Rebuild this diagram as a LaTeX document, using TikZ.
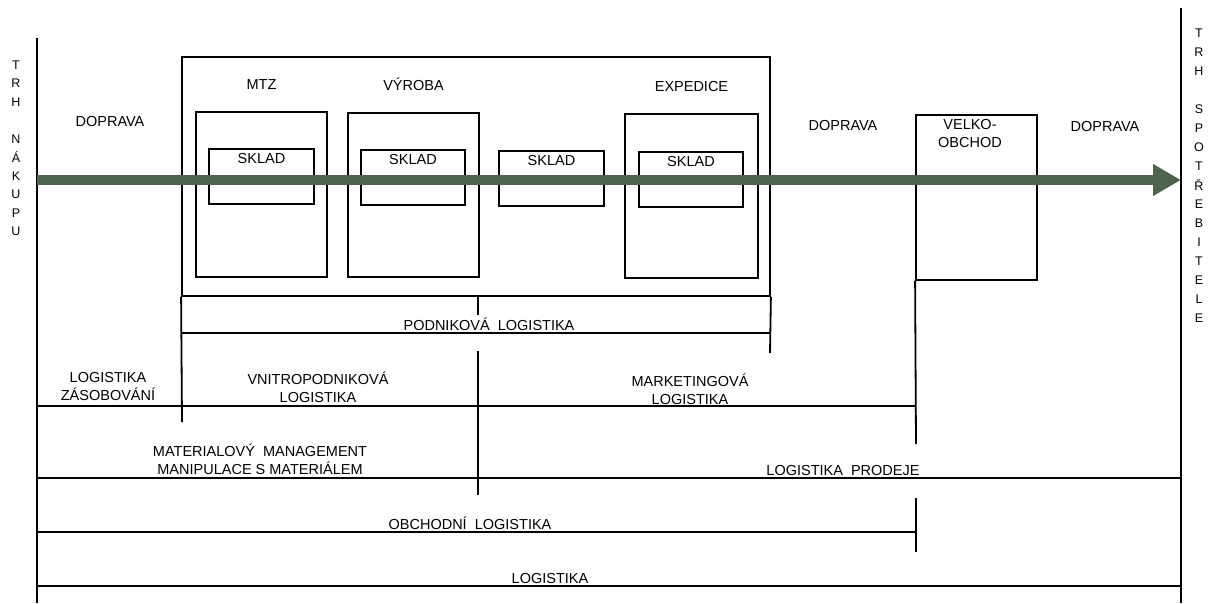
\documentclass[tikz,border=0pt]{standalone}
\usepackage{fontspec}
\setmainfont{Liberation Sans}
\usetikzlibrary{positioning,arrows.meta}
\definecolor{flowgreen}{RGB}{78,98,78}
\tikzstyle{box} = [draw, line width=1.8pt, inner sep=0pt]
\tikzstyle{lbl} = [inner sep=0pt, font=\fontsize{14.5}{18}\selectfont]
\tikzstyle{lbl2} = [lbl, align=center]
\tikzstyle{letter} = [inner sep=0pt, font=\fontsize{12.5}{13}\selectfont]
\tikzstyle{rule} = [line width=1.8pt]
\tikzstyle{flow} = [line width=10pt, draw=flowgreen, -{Triangle[length=28pt,width=30pt]}]

\begin{document}
\begin{tikzpicture}[x=1pt,y=-1pt]
\useasboundingbox (0,0) rectangle (1208,603);
% podnik and its parts
\node[box, minimum width=588pt, minimum height=239pt] (podnik) at (476,176.5) {};
\node[box, minimum width=131pt, minimum height=165pt] (mtz) at (261.5,194.5) {};
\node[box, minimum width=131pt, minimum height=164pt] (vyroba) at (413.5,195) {};
\node[box, minimum width=133pt, minimum height=164pt] (expedice) at (691.5,196) {};
\node[box, minimum width=121pt, minimum height=165pt] (velko) at (976.5,197.5) {};
\node[lbl, above=21pt of mtz.north] (mtzlbl) {MTZ};
\node[lbl, above=21pt of vyroba.north] (vyrobalbl) {VÝROBA};
\node[lbl, above=21pt of expedice.north] (expedicelbl) {EXPEDICE};
% sklady
\node[box, minimum width=105pt, minimum height=55pt] (sklad1) at (261.5,176.5) {};
\node[box, minimum width=104pt, minimum height=55pt] (sklad2) at (413,177.5) {};
\node[box, minimum width=105pt, minimum height=55pt] (sklad3) at (551.5,178.5) {};
\node[box, minimum width=104pt, minimum height=55pt] (sklad4) at (691,179.5) {};
\foreach \s in {1,...,4}
  \node[lbl, below=5pt of sklad\s.north] (skladlbl\s) {SKLAD};

\node[lbl] (dop1) at (110,122) {DOPRAVA};
\node[lbl] (dop2) at (843,126) {DOPRAVA};
\node[lbl] (dop3) at (1105,127) {DOPRAVA};
\node[lbl2] (velkolbl) at (970,134) {VELKO-\\OBCHOD};

% trh
\foreach \ch [count=\i from 0] in {T,R,H,{},N,Á,K,U,P,U}
  \node[letter] (nakup\i) at (16,65+18.5*\i) {\ch};
\foreach \ch [count=\i from 0] in {T,R,H,{},S,P,O,T,Ř,E,B,I,T,E,L,E}
  \node[letter] (spotreba\i) at (1199,33+19*\i) {\ch};
\draw[rule] (37,38) -- (37,603);
\draw[rule] (1181,8) -- (1181,603);

% brackets
\draw[rule] (podnik.south west) -- (182,422);
\draw[rule] (podnik.south east) -- (770,353);
\draw[rule] (182,333) -- (770,333);
\draw[rule] (478,296) -- (478,315);
\draw[rule] (478,351) -- (478,495);
\draw[rule] (37,406) -- (916,406);
\draw[rule] (velko.south west) -- (916,444);
\draw[rule] (37,478) -- (1181,478);
\draw[rule] (37,532) -- (916,532);
\draw[rule] (916,498) -- (916,552);
\draw[rule] (37,586) -- (1181,586);

\node[lbl] (podniklbl) at (489,324) {PODNIKOVÁ~~LOGISTIKA};
\node[lbl2] (zasoblbl) at (108,387) {LOGISTIKA\\ZÁSOBOVÁNÍ};
\node[lbl2] (vnitrolbl) at (318,387) {VNITROPODNIKOVÁ\\LOGISTIKA};
\node[lbl2] (marketlbl) at (690,389) {MARKETINGOVÁ\\LOGISTIKA};
\node[lbl2] (matlbl) at (260,459) {MATERIALOVÝ~~MANAGEMENT\\MANIPULACE~S~MATERIÁLEM};
\node[lbl] (prodejlbl) at (843,471) {LOGISTIKA~~PRODEJE};
\node[lbl] (obchodlbl) at (470,523) {OBCHODNÍ~~LOGISTIKA};
\node[lbl] (logistlbl) at (550,578) {LOGISTIKA};

% tok zbozi
\coordinate (trhnakupu) at (37,180);
\coordinate (trhspotreby) at (1181,180);
\draw[flow] (trhnakupu) -- (trhspotreby);
\end{tikzpicture}
\end{document}
